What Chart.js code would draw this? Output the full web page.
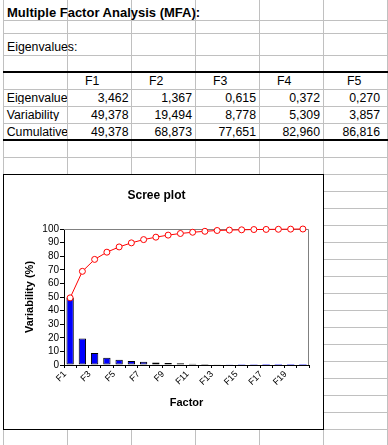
<!DOCTYPE html>
<html><head><meta charset="utf-8">
<script src="https://cdn.jsdelivr.net/npm/chart.js@4/dist/chart.umd.min.js"></script>
<style>
html,body{margin:0;padding:0;background:#fff;}
body{width:388px;height:445px;position:relative;overflow:hidden;font-family:"Liberation Sans",Arial,sans-serif;}
.h{position:absolute;left:3px;width:385px;height:1px;background:#c0c0c0;}
.v{position:absolute;top:0;width:1px;height:445px;background:#c0c0c0;}
.thick{position:absolute;left:3px;width:385px;height:2px;background:#000;}
.t{position:absolute;font-size:12.3px;line-height:1;white-space:nowrap;color:#000;}
#box{position:absolute;left:3px;top:174px;width:321px;height:256px;box-sizing:border-box;border:1px solid #000;background:#fff;}
canvas{display:block;}
</style></head>
<body>
<div id="sheet"></div>
<div id="box"><canvas id="c" width="319" height="254"></canvas></div>
<script>
// ---- data ----
const factors = ['F1','F2','F3','F4','F5','F6','F7','F8','F9','F10','F11','F12','F13','F14','F15','F16','F17','F18','F19','F20'];
const eigenvalues = [3.462, 1.367, 0.615, 0.372, 0.270];
const variability = [49.378, 19.494, 8.778, 5.309, 3.857, 3.0, 2.4, 1.8, 1.5, 1.2, 0.9, 0.7, 0.6, 0.3, 0.2, 0.2, 0.1, 0.1, 0.1, 0.1];
const cumulative = [49.378, 68.873, 77.651, 82.960, 86.816, 89.8, 92.2, 94.0, 95.5, 96.7, 97.6, 98.3, 98.9, 99.2, 99.4, 99.6, 99.7, 99.8, 99.9, 100.0];
const rowLabels = ['Eigenvalue', 'Variability', 'Cumulative'];
const sheetTitle = 'Multiple Factor Analysis (MFA):';
const sectionTitle = 'Eigenvalues:';
const chartTitle = 'Scree plot';
const xTitle = 'Factor';
const yTitle = 'Variability (%)';

// ---- spreadsheet background ----
const sheet = document.getElementById('sheet');
function add(cls, style, text){ const d=document.createElement('div'); d.className=cls; Object.assign(d.style, style); if(text!==undefined) d.textContent=text; sheet.appendChild(d); return d; }
[3,67,131,195,259,323,387].forEach(x=>add('v',{left:x+'px'}));
const hLines=[20,33,55,89,106,123];
for(let y=157;y<445;y+=17) hLines.push(y);
hLines.forEach(y=>add('h',{top:y+'px'}));
add('thick',{top:'71px'}); add('thick',{top:'139px'});
const fmt=v=>v.toFixed(3).replace('.',',');
add('t',{left:'7px',top:'5.5px',fontWeight:'bold',fontSize:'13px'},sheetTitle);
add('t',{left:'7px',top:(51-10.4)+'px'},sectionTitle);
const headerX=[85,149,213,277,347];
const numRight=[128.5,192,256,320,380];
const tableRows=[eigenvalues, variability.slice(0,5), cumulative.slice(0,5)];
factors.slice(0,5).forEach((f,i)=>add('t',{left:headerX[i]+'px',top:(85-10.4)+'px'},f));
rowLabels.forEach((lab,r)=>{
  const base=102+17*r;
  add('t',{left:'4px',width:'63px',overflow:'hidden',paddingLeft:'2.7px',boxSizing:'border-box',top:(base-10.4)+'px'},lab);
  tableRows[r].forEach((v,i)=>add('t',{right:(388-numRight[i])+'px',top:(base-10.4)+'px'},fmt(v)));
});

// ---- chart ----
const framePlugin={id:'frame',beforeDatasetsDraw(chart){
  const {ctx,chartArea:a}=chart; ctx.save(); ctx.strokeStyle='#808080'; ctx.lineWidth=1;
  const t=Math.round(a.top)+0.5, r=Math.round(a.right)-0.5;
  ctx.beginPath(); ctx.moveTo(Math.round(a.left),t); ctx.lineTo(r,t); ctx.lineTo(r,Math.round(a.bottom)); ctx.stroke(); ctx.restore();
}};
const FONT='"Liberation Sans", Arial, sans-serif';
new Chart(document.getElementById('c'),{
  type:'bar',
  data:{labels:factors,datasets:[
    {type:'line',data:cumulative,borderColor:'#ff0000',borderWidth:1,pointRadius:3,pointHoverRadius:3,pointBackgroundColor:'#ffffff',pointBorderColor:'#ff0000',pointBorderWidth:1,tension:0,clip:false,order:0},
    {type:'bar',data:variability,backgroundColor:'#0000ff',borderColor:'#000000',borderWidth:c=>(c.raw>=0.45?1:0),borderSkipped:false,barPercentage:0.6,categoryPercentage:1,order:1}
  ]},
  options:{
    responsive:false,animation:false,devicePixelRatio:1,
    layout:{padding:{left:0,right:14,top:0,bottom:0}},
    plugins:{legend:{display:false},tooltip:{enabled:false},
      title:{display:true,text:chartTitle,color:'#000',font:{family:FONT,size:12,weight:'bold'},padding:{top:13,bottom:26.6}}},
    scales:{
      x:{offset:true,
        grid:{display:true,drawOnChartArea:false,drawTicks:true,tickLength:3,color:'#000',offset:true},
        border:{color:'#000',width:1},
        ticks:{autoSkip:false,maxRotation:45,minRotation:45,labelOffset:-5,padding:1,color:'#000',font:{family:FONT,size:9},callback:(v,i)=>(i%2===0?factors[i]:'')},
        title:{display:true,text:xTitle,color:'#000',font:{family:FONT,size:11,weight:'bold'},padding:{top:0,bottom:19.4}},
        afterFit:s=>{s.height=64;}
      },
      y:{min:0,max:100,
        ticks:{stepSize:10,autoSkip:false,color:'#000',padding:1,font:{family:FONT,size:10}},
        grid:{drawOnChartArea:false,tickLength:4,color:'#000'},
        border:{color:'#000',width:1},
        title:{display:true,text:yTitle,color:'#000',font:{family:FONT,size:11,weight:'bold'},padding:{top:19.4,bottom:0}},
        afterFit:s=>{s.width=60;}
      }
    }
  },
  plugins:[framePlugin]
});
</script>
</body></html>
